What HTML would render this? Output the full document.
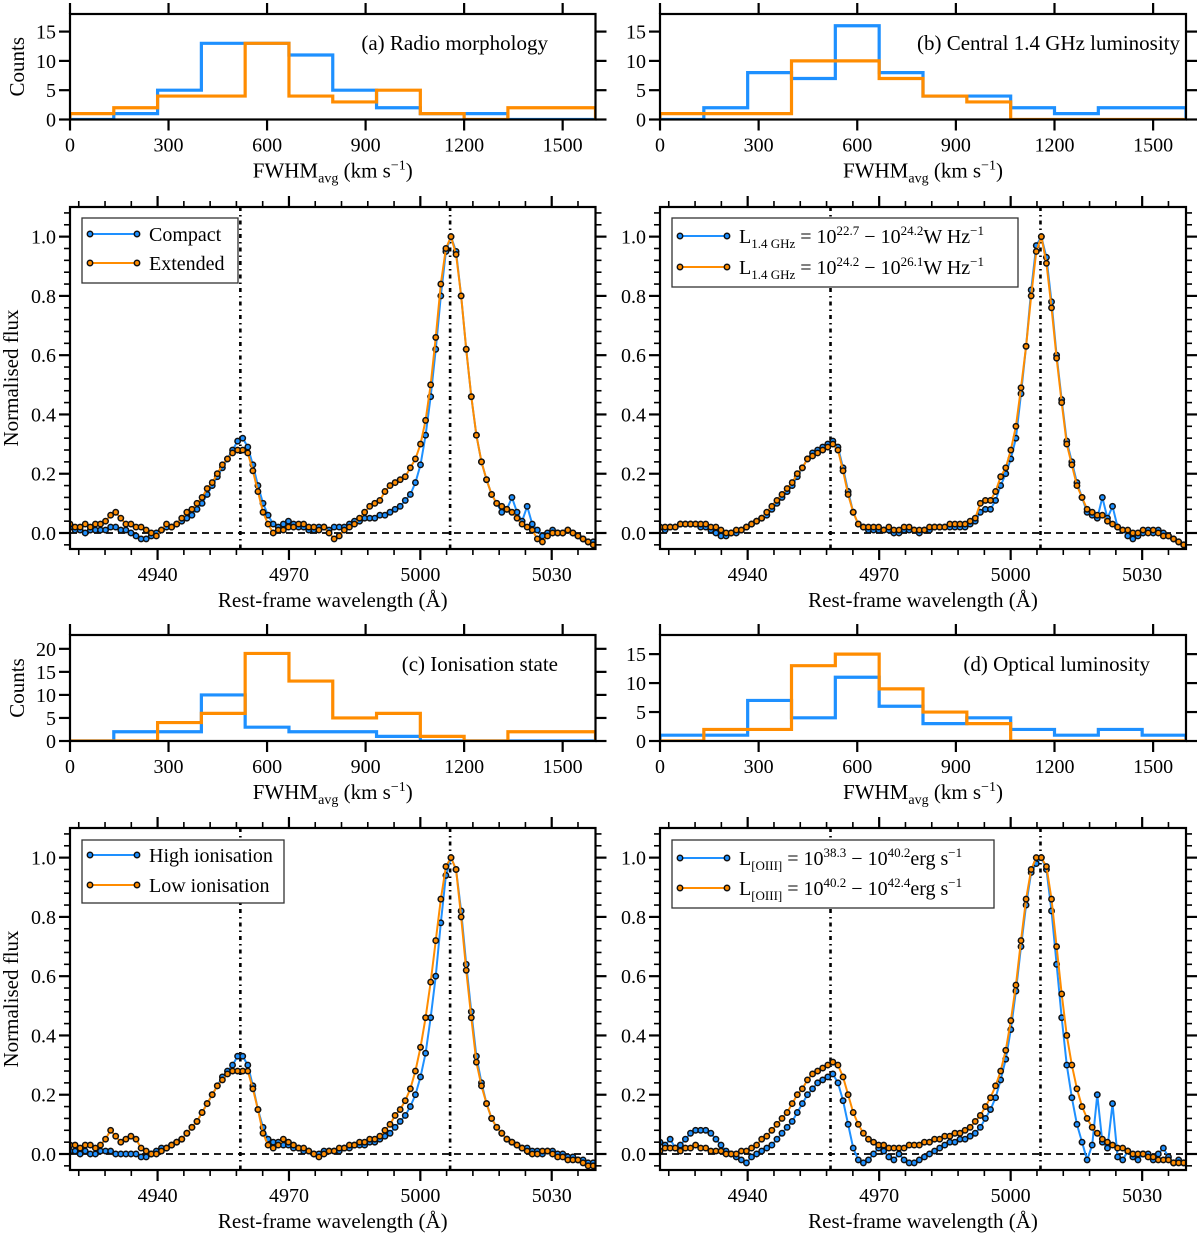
<!DOCTYPE html>
<html><head><meta charset="utf-8">
<style>
html,body{margin:0;padding:0;background:#fff;}
svg{display:block;font-family:"Liberation Serif",serif;}
</style></head>
<body>
<svg id="fig" xmlns="http://www.w3.org/2000/svg" width="1200" height="1237" viewBox="0 0 1200 1237"></svg>
<script>
// ---- Histogram data (bins of 133.33 km/s from 0 to 1600) ----
const binEdges = [0,133.33,266.67,400,533.33,666.67,800,933.33,1066.67,1200,1333.33,1466.67,1600];
const histA_blue   = [0,1,5,13,13,11,5,2,1,1,0,0];
const histA_orange = [1,2,4,4,13,4,3,5,1,0,2,2];
const histB_blue   = [0,2,8,7,16,8,4,4,2,1,2,2];
const histB_orange = [1,1,1,10,10,7,4,3,0,0,0,0];
const histC_blue   = [0,2,2,10,3,2,2,1,0,0,0,0];
const histC_orange = [0,0,4,6,19,13,5,6,1,0,2,2];
const histD_blue   = [1,1,7,4,11,6,3,4,2,1,2,1];
const histD_orange = [0,2,2,13,15,9,5,3,0,0,0,0];
const histXTicks = [0,300,600,900,1200,1500];

// ---- Spectra: wavelength grid 4920 + i*1.16 Å (104 samples) ----
const wlStart = 4920;
const wlStep = 1.16;
const specA_blue = [.02,.01,.01,.00,.01,.01,.01,.01,.02,.02,
.01,.01,.00,-.01,-.02,-.02,-.01,.00,.01,.02,
.02,.03,.04,.05,.06,.08,.10,.13,.16,.19,
.22,.25,.28,.31,.32,.29,.23,.16,.10,.06,
.03,.02,.03,.04,.03,.02,.02,.01,.01,.02,
.02,.01,.02,.02,.02,.03,.04,.04,.05,.05,
.05,.06,.06,.07,.08,.09,.11,.13,.17,.23,
.33,.46,.62,.80,.95,1.00,.95,.80,.62,.46,
.33,.24,.18,.13,.10,.07,.08,.12,.07,.04,
.09,.03,.01,-.01,.00,.01,.00,.00,.01,.00,
-.01,-.02,-.03,-.03];
const specA_orange = [.03,.02,.02,.03,.02,.03,.03,.04,.06,.07,
.05,.03,.03,.02,.02,.01,.00,-.01,.01,.03,
.02,.03,.05,.07,.08,.10,.12,.15,.17,.20,
.23,.25,.27,.28,.28,.27,.21,.14,.07,.03,
.00,.01,.01,.02,.02,.03,.03,.02,.02,.01,
.02,.00,-.02,-.01,.01,.02,.03,.05,.07,.09,
.10,.11,.14,.16,.17,.18,.19,.22,.25,.30,
.38,.50,.66,.84,.96,1.00,.94,.80,.62,.46,
.33,.24,.18,.13,.10,.09,.08,.07,.05,.03,
.02,.01,-.02,-.03,-.01,.00,.00,.00,.01,.00,
-.01,-.02,-.03,-.04];
const specB_blue = [.02,.01,.02,.02,.03,.03,.03,.03,.02,.02,
.01,.00,-.01,-.01,.00,.00,.01,.02,.03,.04,
.05,.06,.08,.10,.12,.14,.16,.19,.22,.25,
.27,.28,.29,.30,.31,.29,.22,.14,.07,.03,
.02,.01,.01,.01,.01,.01,.00,.00,.01,.01,
.01,.00,.01,.01,.02,.02,.02,.02,.02,.02,
.02,.03,.04,.07,.08,.08,.11,.16,.20,.25,
.32,.47,.63,.82,.97,1.00,.93,.78,.60,.45,
.31,.24,.17,.12,.07,.06,.05,.12,.05,.09,
.02,.01,-.01,-.02,-.01,.00,.01,.00,.01,.00,
-.01,-.02,-.03,-.04];
const specB_orange = [.02,.02,.02,.02,.03,.03,.03,.03,.03,.03,
.02,.02,.01,.00,.00,.01,.01,.02,.03,.04,
.05,.07,.09,.11,.13,.15,.17,.20,.22,.25,
.26,.27,.28,.29,.30,.28,.21,.13,.07,.03,
.02,.02,.02,.02,.01,.02,.01,.01,.02,.02,
.01,.01,.01,.02,.02,.02,.02,.03,.03,.03,
.03,.04,.05,.10,.11,.11,.14,.19,.22,.28,
.36,.49,.63,.80,.95,1.00,.91,.76,.59,.44,
.30,.23,.16,.12,.08,.07,.06,.06,.04,.03,
.02,.01,.01,.00,.00,.01,.00,.01,.00,-.01,
-.01,-.02,-.03,-.04];
const specC_blue = [.01,.01,.00,.01,.00,.00,.01,.01,.01,.00,
.00,.00,.00,.00,-.01,-.01,.00,.01,.02,.02,
.03,.04,.05,.07,.09,.11,.14,.17,.20,.23,
.26,.28,.30,.33,.33,.30,.23,.15,.09,.05,
.04,.04,.03,.03,.02,.02,.01,.01,.00,.00,
.01,.01,.01,.01,.02,.02,.03,.03,.03,.04,
.04,.05,.06,.07,.09,.11,.13,.16,.20,.26,
.34,.46,.60,.78,.94,1.00,.96,.82,.64,.48,
.33,.24,.17,.12,.09,.07,.05,.04,.03,.02,
.02,.01,.01,.00,.01,.01,.00,.00,-.01,-.01,
-.02,-.02,-.03,-.03];
const specC_orange = [.03,.03,.02,.03,.03,.02,.03,.05,.08,.06,
.04,.05,.06,.05,.02,.01,.00,.00,.01,.02,
.03,.04,.05,.07,.09,.11,.14,.17,.20,.23,
.25,.27,.28,.28,.28,.28,.22,.15,.07,.03,
.02,.03,.05,.04,.03,.02,.02,.01,.00,-.01,
.00,.01,.01,.02,.02,.03,.03,.04,.04,.05,
.05,.06,.08,.10,.13,.15,.18,.22,.28,.36,
.46,.58,.72,.86,.97,1.00,.96,.80,.62,.46,
.31,.23,.17,.12,.09,.07,.05,.04,.03,.02,
.01,.00,.00,.01,.01,.00,-.01,-.01,-.02,-.02,
-.02,-.03,-.04,-.04];
const specD_blue = [.04,.03,.05,.02,.03,.05,.07,.08,.08,.08,
.07,.05,.03,.01,.00,-.01,-.02,-.03,-.01,.00,
.01,.02,.03,.05,.07,.09,.11,.14,.17,.20,
.22,.24,.25,.26,.27,.24,.18,.10,.02,-.02,
-.03,-.02,.00,.02,.01,-.01,-.02,.00,-.02,-.03,
-.03,-.02,-.01,.00,.01,.02,.03,.04,.04,.05,
.05,.06,.07,.09,.12,.15,.19,.25,.32,.42,
.55,.70,.84,.95,.98,1.00,.96,.82,.64,.46,
.30,.19,.10,.04,-.02,.03,.20,.04,.02,.17,
-.01,-.02,.01,-.01,-.02,.00,.00,-.02,.00,.02,
-.01,-.03,-.02,-.03];
const specD_orange = [.01,.02,.02,.02,.01,.02,.02,.03,.02,.02,
.01,.01,.01,.00,.00,.00,.01,.01,.02,.03,
.05,.06,.08,.10,.12,.14,.17,.20,.22,.25,
.27,.28,.29,.30,.31,.30,.26,.20,.14,.10,
.07,.05,.04,.03,.03,.02,.02,.02,.02,.03,
.03,.03,.04,.04,.05,.05,.06,.06,.07,.07,
.08,.09,.11,.13,.16,.19,.23,.28,.35,.45,
.57,.72,.86,.96,1.00,1.00,.97,.86,.70,.54,
.40,.30,.22,.16,.12,.09,.07,.05,.04,.03,
.02,.02,.01,.00,.00,.00,-.01,-.01,-.02,-.02,
-.02,-.03,-.03,-.03];
const specXTicks = [4940,4970,5000,5030];
const specYTicks = [0,0.2,0.4,0.6,0.8,1.0];
const lineCentres = [4958.9,5006.8];

const BLUE = '#1E90FF', ORANGE = '#FF8C00';
const NS = 'http://www.w3.org/2000/svg';
const svg = document.getElementById('fig');
function mk(tag, attrs, parent) {
  const e = document.createElementNS(NS, tag);
  for (const k in attrs) e.setAttribute(k, attrs[k]);
  (parent || svg).appendChild(e);
  return e;
}
let clipId = 0;

function axesFrame(g, box, xlim, ylim, xticks, xminor, yticks, yminor, xfmt, yfmt) {
  const sx = v => box.x0 + (v - xlim[0]) / (xlim[1] - xlim[0]) * (box.x1 - box.x0);
  const sy = v => box.y1 - (v - ylim[0]) / (ylim[1] - ylim[0]) * (box.y1 - box.y0);
  const tg = mk('g', {stroke:'#000', 'stroke-width':1.6}, g);
  
  
  xminor.forEach(v => { const x = sx(v);
    mk('line', {x1:x, x2:x, y1:box.y1, y2:box.y1+6}, tg);
    mk('line', {x1:x, x2:x, y1:box.y0, y2:box.y0-6}, tg); });
  yminor.forEach(v => { const y = sy(v);
    mk('line', {x1:box.x0, x2:box.x0-6, y1:y, y2:y}, tg);
    mk('line', {x1:box.x1, x2:box.x1+6, y1:y, y2:y}, tg); });
  xticks.forEach(v => { const x = sx(v);
    mk('line', {x1:x, x2:x, y1:box.y1, y2:box.y1+11, 'stroke-width':2.2}, tg);
    mk('line', {x1:x, x2:x, y1:box.y0, y2:box.y0-11, 'stroke-width':2.2}, tg);
    const t = mk('text', {x:x, y:box.y1+32, 'text-anchor':'middle', 'font-size':20, stroke:'none', fill:'#000'}, g);
    t.textContent = xfmt(v);
    
     });
  yticks.forEach(v => { const y = sy(v);
    mk('line', {x1:box.x0, x2:box.x0-11, y1:y, y2:y, 'stroke-width':2.2}, tg);
    mk('line', {x1:box.x1, x2:box.x1+11, y1:y, y2:y, 'stroke-width':2.2}, tg);
    const t = mk('text', {x:box.x0-14, y:y+7, 'text-anchor':'end', 'font-size':20, fill:'#000'}, g);
    t.textContent = yfmt(v);
    
     });
  return {sx, sy};
}
function spine(g, box) {
  const r = mk('rect', {x:box.x0, y:box.y0, width:box.x1-box.x0, height:box.y1-box.y0, fill:'none', stroke:'#000', 'stroke-width':2.2}, g);
  
  
}
function clip(g, box) {
  const id = 'c' + (clipId++);
  const cp = mk('clipPath', {id:id}, g);
  mk('rect', {x:box.x0, y:box.y0, width:box.x1-box.x0, height:box.y1-box.y0}, cp);
  return mk('g', {'clip-path':'url(#'+id+')'}, g);
}
function xlabel(g, box, html) {
  const t = mk('text', {x:(box.x0+box.x1)/2, y:box.y1+58, 'text-anchor':'middle', 'font-size':21}, g);
  t.innerHTML = html;
  
  
}
function ylabel(g, box, text, x) {
  const cy = (box.y0+box.y1)/2;
  const t = mk('text', {x:x, y:cy, 'text-anchor':'middle', 'font-size':21, transform:'rotate(-90 '+x+' '+cy+')'}, g);
  t.textContent = text;
  
  
}

function histPanel(name, box, ymax, yticks, blue, orange, title, titleX, showY) {
  const g = mk('g', {});
  
  
  const {sx, sy} = axesFrame(g, box, [0,1600], [0,ymax], histXTicks, [], yticks, [], v=>String(v), v=>String(v));
  const cg = clip(g, box);
  [[blue, BLUE, 'histogram-blue'], [orange, ORANGE, 'histogram-orange']].forEach(([vals, col, nm]) => {
    let d = 'M' + sx(binEdges[0]) + ',' + sy(0);
    vals.forEach((c, i) => { d += ' L' + sx(binEdges[i]) + ',' + sy(c) + ' L' + sx(binEdges[i+1]) + ',' + sy(c); });
    d += ' L' + sx(binEdges[binEdges.length-1]) + ',' + sy(0);
    const p = mk('path', {d:d, fill:'none', stroke:col, 'stroke-width':3.2, 'stroke-linejoin':'miter'}, cg);
    
    
  });
  spine(g, box);
  const t = mk('text', {x:titleX, y:box.y0+36, 'text-anchor':'end', 'font-size':21}, g);
  t.innerHTML = title;
  
  
  xlabel(g, box, 'FWHM<tspan font-size="14" dy="5">avg</tspan><tspan dy="-5"> (km s</tspan><tspan font-size="14" dy="-8">−1</tspan><tspan dy="8">)</tspan>');
  if (showY) ylabel(g, box, 'Counts', 24);
}

function specPanel(name, box, blue, orange, legend, showY) {
  const g = mk('g', {});
  
  
  const xminor = []; for (let v = 4922; v <= 5040; v += 6) if (!specXTicks.includes(v)) xminor.push(v);
  const yminor = []; for (let v = -0.04; v <= 1.1; v += 0.04) { const r = Math.round(v*100)/100; if (Math.abs(r*5 - Math.round(r*5)) > 1e-6) yminor.push(r); }
  const {sx, sy} = axesFrame(g, box, [4920,5040], [-0.054,1.1], specXTicks, xminor, specYTicks, yminor, v=>String(v), v=>v.toFixed(1));
  const cg = clip(g, box);
  const zl = mk('line', {x1:box.x0, x2:box.x1, y1:sy(0), y2:sy(0), stroke:'#000', 'stroke-width':1.8, 'stroke-dasharray':'7,5'}, cg);
  
  
  lineCentres.forEach(w => {
    const l = mk('line', {x1:sx(w), x2:sx(w), y1:box.y0, y2:box.y1, stroke:'#000', 'stroke-width':2.6, 'stroke-dasharray':'4,4,1.5,4'}, cg);
    
    
  });
  [[blue, BLUE, 'spectrum-blue'], [orange, ORANGE, 'spectrum-orange']].forEach(([vals, col, nm]) => {
    const sg = mk('g', {}, cg);
    
    
    const pts = vals.map((v, i) => sx(wlStart + i*wlStep) + ',' + sy(v)).join(' ');
    mk('polyline', {points:pts, fill:'none', stroke:col, 'stroke-width':2}, sg);
    vals.forEach((v, i) => {
      const c = mk('circle', {cx:sx(wlStart + i*wlStep), cy:sy(v), r:2.7, fill:col, stroke:'#111', 'stroke-width':1.5}, sg);
      
      
    });
  });
  spine(g, box);
  const L = legend;
  const lg = mk('g', {}, g);
  
  
  mk('rect', {x:L.x, y:L.y, width:L.w, height:L.h, fill:'#fff', stroke:'#333', 'stroke-width':1.3}, lg);
  [[BLUE, L.t1, L.e1], [ORANGE, L.t2, L.e2]].forEach(([col, txt, ey]) => {
    const eg = mk('g', {}, lg);
    
    
    mk('line', {x1:L.x+8, x2:L.x+55, y1:ey, y2:ey, stroke:col, 'stroke-width':2}, eg);
    mk('circle', {cx:L.x+8, cy:ey, r:2.7, fill:col, stroke:'#111', 'stroke-width':1.5}, eg);
    mk('circle', {cx:L.x+55, cy:ey, r:2.7, fill:col, stroke:'#111', 'stroke-width':1.5}, eg);
    const t = mk('text', {x:L.x+67, y:ey+7, 'font-size':20}, eg);
    t.innerHTML = txt;
  });
  xlabel(g, box, 'Rest-frame wavelength (Å)');
  if (showY) ylabel(g, box, 'Normalised flux', 18);
}

const LX = [70, 595.5], RX = [660, 1186];
histPanel('histogram-a', {x0:LX[0], x1:LX[1], y0:14, y1:119.5}, 18, [0,5,10,15], histA_blue, histA_orange, '(a) Radio morphology', 548, true);
histPanel('histogram-b', {x0:RX[0], x1:RX[1], y0:14, y1:119.5}, 18, [0,5,10,15], histB_blue, histB_orange, '(b) Central 1.4 GHz luminosity', 1180, false);
histPanel('histogram-c', {x0:LX[0], x1:LX[1], y0:635, y1:741}, 23, [0,5,10,15,20], histC_blue, histC_orange, '(c) Ionisation state', 558, true);
histPanel('histogram-d', {x0:RX[0], x1:RX[1], y0:635, y1:741}, 18.3, [0,5,10,15], histD_blue, histD_orange, '(d) Optical luminosity', 1150, false);

const sub = s => '<tspan font-size="13" dy="5">' + s + '</tspan>';
const sup = s => '<tspan font-size="13" dy="-8">' + s + '</tspan>';
function Lstr(subs, a, b, unit) {
  return 'L' + sub(subs) + '<tspan dy="-5"> = 10</tspan>' + sup(a) + '<tspan dy="8"> − 10</tspan>' + sup(b) + '<tspan dy="8">' + unit + '</tspan>';
}
specPanel('spectrum-a', {x0:LX[0], x1:LX[1], y0:207, y1:549}, specA_blue, specA_orange,
  {x:82, y:218, w:156, h:65, e1:234, e2:263, t1:'Compact', t2:'Extended'}, true);
specPanel('spectrum-b', {x0:RX[0], x1:RX[1], y0:207, y1:549}, specB_blue, specB_orange,
  {x:672, y:218, w:346, h:69, e1:236, e2:267,
   t1:Lstr('1.4 GHz','22.7','24.2','W Hz')+sup('−1'), t2:Lstr('1.4 GHz','24.2','26.1','W Hz')+sup('−1')}, false);
specPanel('spectrum-c', {x0:LX[0], x1:LX[1], y0:828, y1:1170}, specC_blue, specC_orange,
  {x:82, y:840, w:202, h:63, e1:855, e2:885, t1:'High ionisation', t2:'Low ionisation'}, true);
specPanel('spectrum-d', {x0:RX[0], x1:RX[1], y0:828, y1:1170}, specD_blue, specD_orange,
  {x:672, y:840, w:322, h:68, e1:858, e2:888,
   t1:Lstr('[OIII]','38.3','40.2','erg s')+sup('−1'), t2:Lstr('[OIII]','40.2','42.4','erg s')+sup('−1')}, false);
</script>
</body></html>
